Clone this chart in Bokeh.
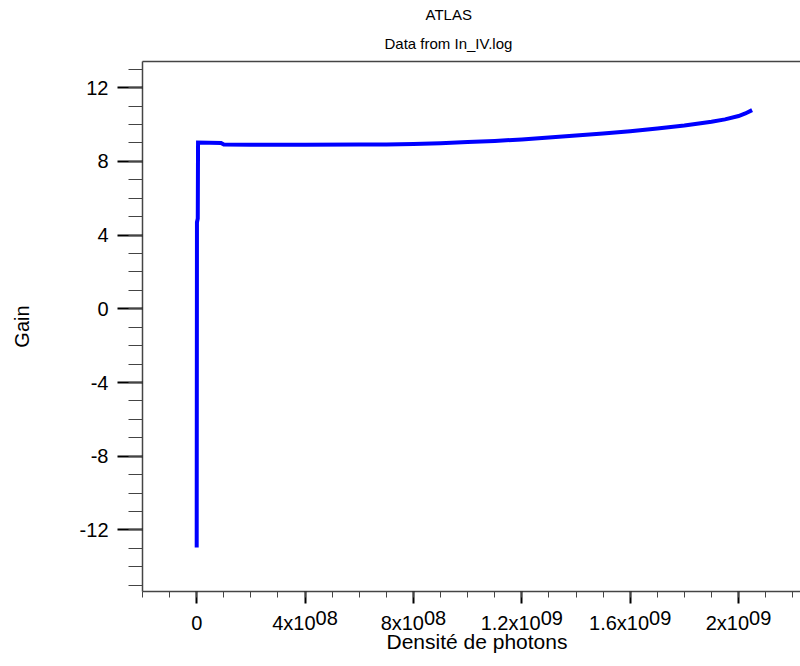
from bokeh.plotting import figure
from bokeh.models import Range1d, FixedTicker, LinearAxis, Title
from bokeh.embed import file_html
from bokeh.resources import INLINE

# ---- data ----
photon_density = [0.0, 1.0e6, 4.0e6, 5.0e6, 9.0e7, 1.0e8, 2.0e8, 4.0e8, 6.0e8, 7.0e8,
                  8.0e8, 9.0e8, 1.0e9, 1.1e9, 1.2e9, 1.3e9, 1.4e9, 1.5e9, 1.6e9,
                  1.7e9, 1.8e9, 1.9e9, 1.95e9, 2.0e9, 2.025e9, 2.05e9]
gain = [-12.95, 4.7, 4.9, 9.02, 9.0, 8.92, 8.9, 8.9, 8.91, 8.92,
        8.94, 8.99, 9.05, 9.11, 9.19, 9.30, 9.41, 9.51, 9.64,
        9.79, 9.95, 10.15, 10.28, 10.46, 10.60, 10.78]

x_major = [0, 4e8, 8e8, 1.2e9, 1.6e9, 2e9]
x_minor = [i * 1e8 for i in range(-2, 23)]
x_tick_base = ["0", "4x10", "8x10", "1.2x10", "1.6x10", "2x10"]
x_tick_exp = ["", "08", "08", "09", "09", "09"]

y_major = [-12, -8, -4, 0, 4, 8, 12]
y_minor = list(range(-15, 14))
y_tick_labels = ["-12", "-8", "-4", "0", "4", "8", "12"]

title_1 = "ATLAS"
title_2 = "Data from In_IV.log"
x_title = "Densité de photons"
y_title = "Gain"

FONT = "Liberation Sans"
W, H = 800, 666
X0, X1 = -2e8, 2.2286e9
BL, BR = 142, 0

p = figure(width=W, height=H, output_backend="svg", toolbar_location=None,
           x_range=Range1d(X0, X1), y_range=Range1d(-15.34, 13.42),
           x_axis_location=None,
           min_border_left=BL, min_border_top=61, min_border_bottom=75,
           min_border_right=BR)
p.grid.visible = False
p.outline_line_color = None
p.background_fill_color = "white"
p.border_fill_color = "white"

# ---- bottom axis: line + ticks ----
xa = LinearAxis(ticker=FixedTicker(ticks=x_major, minor_ticks=x_minor),
                major_label_overrides={v: "" for v in x_major},
                major_label_text_font_size="0px", major_label_standoff=0,
                axis_line_color="#444444", axis_line_width=1.5,
                major_tick_line_color="black", major_tick_line_width=2,
                major_tick_in=0, major_tick_out=12,
                minor_tick_line_color="#444444", minor_tick_line_width=1,
                minor_tick_in=0, minor_tick_out=6)
p.add_layout(xa, "below")

# ---- tick label text: "mantissa x10" with a raised exponent ----
FS = 20
ADV = {"x": 0.5, ".": 0.278}
def text_w(s):
    return sum(ADV.get(ch, 0.556) for ch in s) * FS

px_per_unit = (W - BL - BR) / (X1 - X0)
exp_pos, base_pos = [], []
for v, b, e in zip(x_major, x_tick_base, x_tick_exp):
    wb, we = text_w(b), text_w(e)
    base_pos.append(round(v - (we / 2.0) / px_per_unit))
    exp_pos.append(round(v + (wb / 2.0) / px_per_unit))

def label_axis(pos, texts, standoff):
    keep = [(q, t) for q, t in zip(pos, texts) if t]
    return LinearAxis(ticker=FixedTicker(ticks=[q for q, _ in keep], minor_ticks=[]),
                      major_label_overrides={q: t for q, t in keep},
                      major_label_text_font=FONT, major_label_text_font_size=f"{FS}px",
                      major_label_text_color="black", major_label_standoff=standoff,
                      axis_line_color=None, major_tick_line_color=None,
                      minor_tick_line_color=None, major_tick_out=0, major_tick_in=0,
                      minor_tick_out=0, minor_tick_in=0)

p.add_layout(label_axis(exp_pos, x_tick_exp, 7), "below")
p.add_layout(label_axis(base_pos, x_tick_base, -16), "below")
p.add_layout(Title(text=x_title, align="left", offset=244, vertical_align="top",
                   text_font=FONT, text_font_size="21px", text_font_style="normal",
                   text_color="black", standoff=-14), "below")

# ---- left axis ----
ya = p.yaxis[0]
ya.ticker = FixedTicker(ticks=y_major, minor_ticks=y_minor)
ya.major_label_overrides = {v: t for v, t in zip(y_major, y_tick_labels)}
ya.major_label_text_font = FONT
ya.major_label_text_font_size = "20px"
ya.major_label_text_color = "black"
ya.major_label_standoff = 9
ya.axis_label = y_title
ya.axis_label_text_font = FONT
ya.axis_label_text_font_size = "20px"
ya.axis_label_text_font_style = "normal"
ya.axis_label_text_color = "black"
ya.axis_label_standoff = 44
ya.axis_line_color = "#444444"
ya.axis_line_width = 1.5
ya.major_tick_line_color = "black"
ya.major_tick_line_width = 2
ya.major_tick_in = 0
ya.major_tick_out = 25
ya.minor_tick_line_color = "#444444"
ya.minor_tick_line_width = 1
ya.minor_tick_in = 0
ya.minor_tick_out = 14

# ---- top frame line ----
top = LinearAxis(ticker=FixedTicker(ticks=[]), axis_line_color="#444444",
                 axis_line_width=1.5, major_tick_line_color=None,
                 minor_tick_line_color=None, major_label_text_font_size="0px",
                 major_tick_out=0, major_label_standoff=0)
p.add_layout(top, "above")

# ---- titles (first added sits closest to the frame) ----
p.add_layout(Title(text=title_2, align="left", offset=242, text_font=FONT,
                   text_font_size="15px", text_font_style="normal",
                   text_color="black", standoff=20), "above")
p.add_layout(Title(text=title_1, align="left", offset=283, text_font=FONT,
                   text_font_size="15px", text_font_style="normal",
                   text_color="black", standoff=0), "above")

p.line(photon_density, gain, line_color="#0000ff", line_width=4,
       line_cap="butt", line_join="miter")

open("out.html", "w").write(file_html(p, INLINE))
